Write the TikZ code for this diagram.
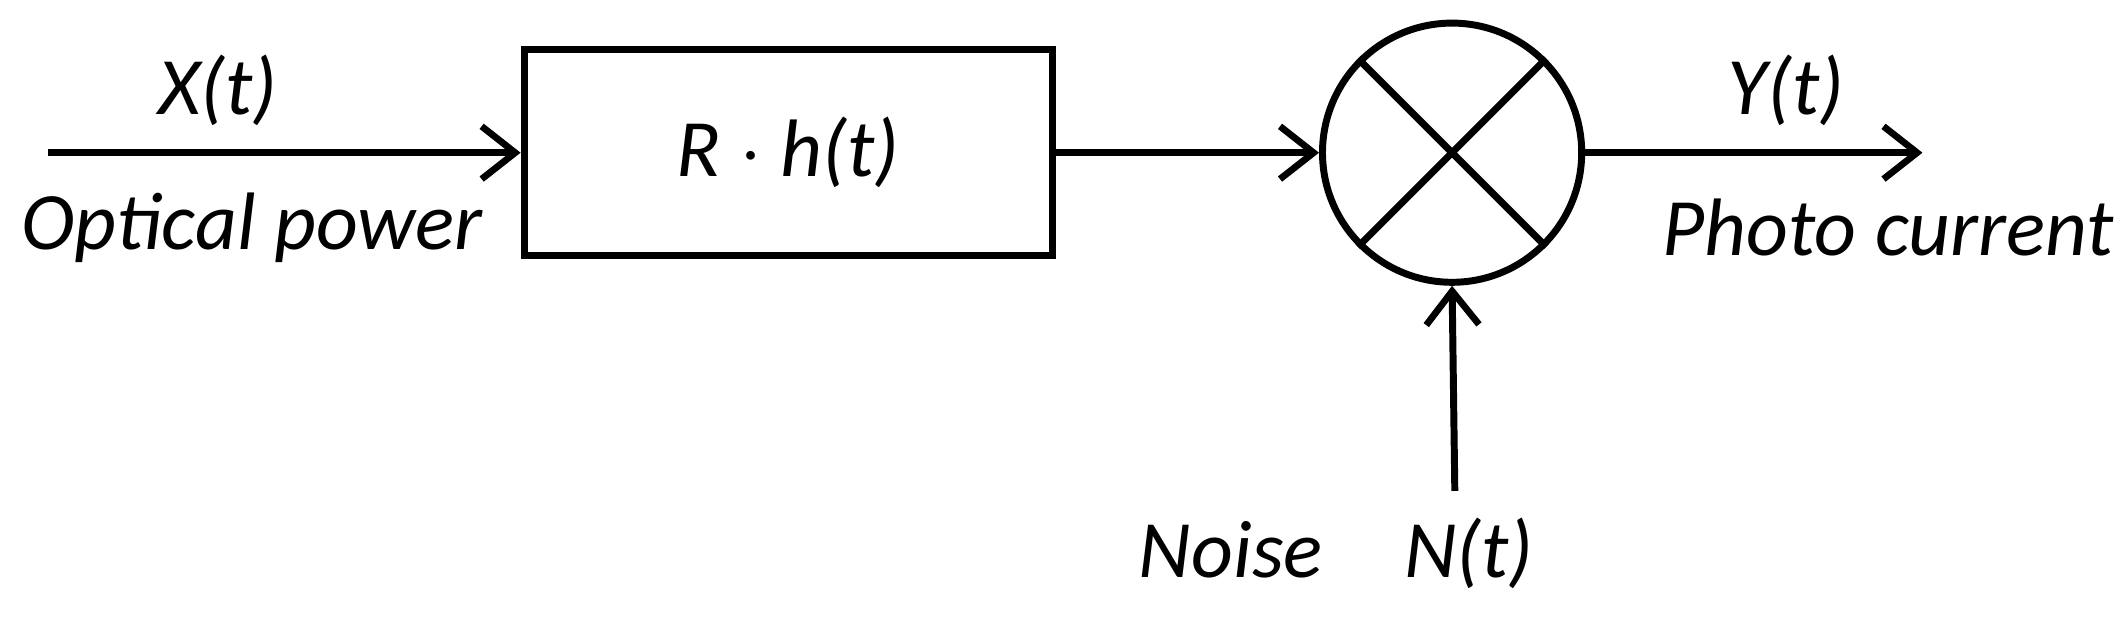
\documentclass[tikz,border=0pt]{standalone}
\usepackage{fontspec}
\setmainfont{Carlito}
\usetikzlibrary{arrows.meta,positioning}

\begin{document}
\begin{tikzpicture}[x=0.01cm,y=-0.01cm,
            >={Straight Barb[length=7pt,width=11pt,line width=1.4pt]},
            line width=1.45pt,
            every node/.style={font=\fontsize{17}{21}\selectfont\itshape},
            block/.style={draw,minimum width=3.87cm,minimum height=1.51cm},
            mixer/.style={draw,circle,minimum size=1.9cm,inner sep=0pt}]

        \useasboundingbox (0,0) rectangle (1560,455);

        \coordinate (in)  at (35,112);
        \coordinate (out) at (1410,112);
        \coordinate (nz)  at (1067,360);

        \node[block]  (h)   at (578,112)  {$\mathit{R}\cdot\mathit{h}$(t)};
        \node[mixer]  (sum) at (1065,112) {};

        \node (x)     at (160,66)   {X(t)};
        \node (op)    at (185,167)  {Optical power};
        \node (y)     at (1310,66)  {Y(t)};
        \node (pc)    at (1385,167) {Photo current};
        \node (noise) at (980,406)  {Noise\quad N(t)};

        \draw[->] (in) -- (h.west);
        \draw[->] (h.east) -- (sum.west);
        \draw[->] (sum.east) -- (out);
        \draw[->] (nz) -- (sum.south);
        \draw (sum.north west) -- (sum.south east)
              (sum.north east) -- (sum.south west);

    \end{tikzpicture}
\end{document}
